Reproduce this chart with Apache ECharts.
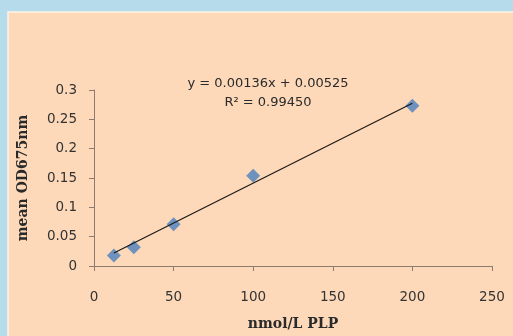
<!DOCTYPE html>
<html><head><meta charset="utf-8">
<script src="https://cdn.jsdelivr.net/npm/echarts@6/dist/echarts.min.js"></script>
<style>html,body{margin:0;padding:0;background:#b6dcec;}#c{width:513px;height:336px;}</style>
</head><body><div id="c"></div>
<script>
const concentrations = [12.5, 25, 50, 100, 200];
const meanOD = [0.018, 0.032, 0.071, 0.154, 0.273];
const trendX = [12.5, 200];
const trendY = [0.0223, 0.2773];
const equationLines = ['y = 0.00136x + 0.00525', 'R\u00B2 = 0.99450'];
const xTitle = 'nmol/L PLP';
const yTitle = 'mean OD675nm';

const chart = echarts.init(document.getElementById('c'), null, {renderer: 'canvas'});
const tickFont = {fontFamily: 'DejaVu Sans', fontSize: 13.5, color: '#333333'};
chart.setOption({
  backgroundColor: '#b6dcec',
  animation: false,
  graphic: [
    {type: 'rect', z: -10, shape: {x: 8, y: 12, width: 510, height: 330},
     style: {fill: '#fdd9b9', stroke: '#fff4e6', lineWidth: 1.5}},
    {type: 'text', x: 268, y: 84, z: 10,
     style: {text: equationLines[0], align: 'center', verticalAlign: 'middle',
             fontFamily: 'DejaVu Sans', fontSize: 13, fill: '#2a2a2a'}},
    {type: 'text', x: 268, y: 103, z: 10,
     style: {text: equationLines[1], align: 'center', verticalAlign: 'middle',
             fontFamily: 'DejaVu Sans', fontSize: 13, fill: '#2a2a2a'}}
  ],
  grid: {left: 94, top: 90, width: 398, height: 178, containLabel: false},
  xAxis: {
    type: 'value', min: 0, max: 250, interval: 50,
    name: xTitle, nameLocation: 'middle', nameGap: 51,
    nameTextStyle: {fontFamily: 'DejaVu Serif', fontWeight: 'bold', fontSize: 14, color: '#2a2a2a'},
    axisLine: {show: true, lineStyle: {color: '#8c7b6e', width: 1}},
    axisTick: {show: true, inside: false, length: 5, lineStyle: {color: '#8c7b6e'}},
    axisLabel: Object.assign({margin: 24}, tickFont),
    splitLine: {show: false}
  },
  yAxis: {
    type: 'value', min: 0, max: 0.3, interval: 0.05,
    name: yTitle, nameLocation: 'middle', nameGap: 64, nameRotate: 90,
    nameTextStyle: {fontFamily: 'DejaVu Serif', fontWeight: 'bold', fontSize: 14, color: '#2a2a2a'},
    axisLine: {show: true, lineStyle: {color: '#8c7b6e', width: 1}},
    axisTick: {show: true, inside: false, length: 5, lineStyle: {color: '#8c7b6e'}},
    axisLabel: Object.assign({margin: 17, formatter: v => String(+v.toFixed(2))}, tickFont),
    splitLine: {show: false}
  },
  series: [
    {type: 'line', data: trendX.map((x, i) => [x, trendY[i]]), symbol: 'none',
     lineStyle: {color: '#1a1a1a', width: 1.2}, z: 3},
    {type: 'scatter', data: concentrations.map((x, i) => [x, meanOD[i]]), symbol: 'diamond',
     symbolSize: 14, itemStyle: {color: '#4a7fbe'}, z: 2}
  ]
});
</script></body></html>
